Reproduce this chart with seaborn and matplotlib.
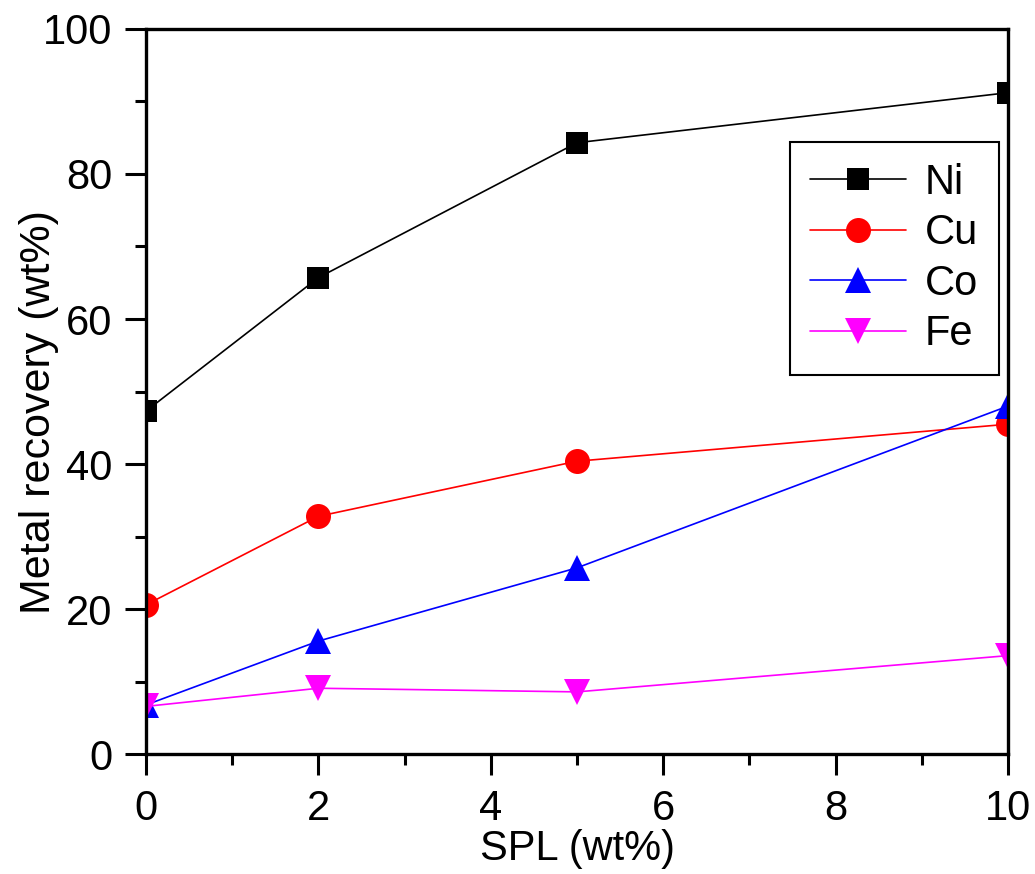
import matplotlib
matplotlib.use("Agg")
import matplotlib.pyplot as plt
import seaborn as sns
import pandas as pd
from matplotlib.ticker import MultipleLocator

spl = [0, 2, 5, 10]
ni = [47.3, 65.7, 84.3, 91.2]
cu = [20.6, 32.8, 40.4, 45.5]
co = [6.8, 15.6, 25.7, 48.0]
fe = [6.6, 9.1, 8.6, 13.6]
metals = ["Ni", "Cu", "Co", "Fe"]
colors = ["#000000", "#ff0000", "#0000ff", "#ff00ff"]
marker_list = ["s", "o", "^", "v"]
marker_sizes = [16, 18, 19, 19]

rows = []
for m, vals in zip(metals, [ni, cu, co, fe]):
    for x, v in zip(spl, vals):
        rows.append({"SPL": x, "Recovery": v, "Metal": m})
df = pd.DataFrame(rows)

sns.set_theme(style="ticks")
plt.rcParams["font.family"] = ["Liberation Sans", "DejaVu Sans"]
plt.rcParams["text.color"] = "black"
plt.rcParams["axes.labelcolor"] = "black"
plt.rcParams["xtick.color"] = "black"
plt.rcParams["ytick.color"] = "black"

fig = plt.figure(figsize=(10.35, 8.74), dpi=100)
ax = fig.add_axes([0.141, 0.137, 0.833, 0.830])

sns.lineplot(data=df, x="SPL", y="Recovery", hue="Metal", style="Metal",
             hue_order=metals, style_order=metals,
             palette=dict(zip(metals, colors)),
             markers=dict(zip(metals, marker_list)), dashes=False,
             markersize=17, markeredgewidth=0, linewidth=1.2, ax=ax,
             legend=True)

for line, ms in zip(ax.lines[:4], marker_sizes):
    line.set_markersize(ms)

ax.set_xlim(0, 10)
ax.set_ylim(0, 100)
ax.xaxis.set_major_locator(MultipleLocator(2))
ax.xaxis.set_minor_locator(MultipleLocator(1))
ax.yaxis.set_major_locator(MultipleLocator(20))
ax.yaxis.set_minor_locator(MultipleLocator(10))
ax.tick_params(which="major", direction="out", length=15, width=2.2,
               labelsize=30, pad=9, colors="black")
ax.tick_params(axis="x", which="major", pad=10)
ax.tick_params(which="minor", direction="out", length=8, width=2.2)
ax.tick_params(top=False, right=False, which="both")
for s in ax.spines.values():
    s.set_linewidth(2.4)
    s.set_color("black")
    s.set_zorder(5)

ax.set_xlabel("SPL (wt%)", fontsize=30, labelpad=0)
ax.set_ylabel("Metal recovery (wt%)", fontsize=31)
ax.yaxis.set_label_coords(-0.101, 0.472)

leg = ax.legend(loc="upper right", bbox_to_anchor=(0.9896, 0.844), fontsize=30,
                handlelength=2.3, labelspacing=0.25, frameon=True, fancybox=False,
                borderpad=0.5, handletextpad=0.45, borderaxespad=0)
leg.get_frame().set_edgecolor("black")
leg.get_frame().set_linewidth(1.5)
leg.get_frame().set_alpha(1)
for h, ms in zip(leg.legend_handles, marker_sizes):
    h.set_markersize(ms)

fig.savefig("out.png", dpi=100, facecolor="white")
